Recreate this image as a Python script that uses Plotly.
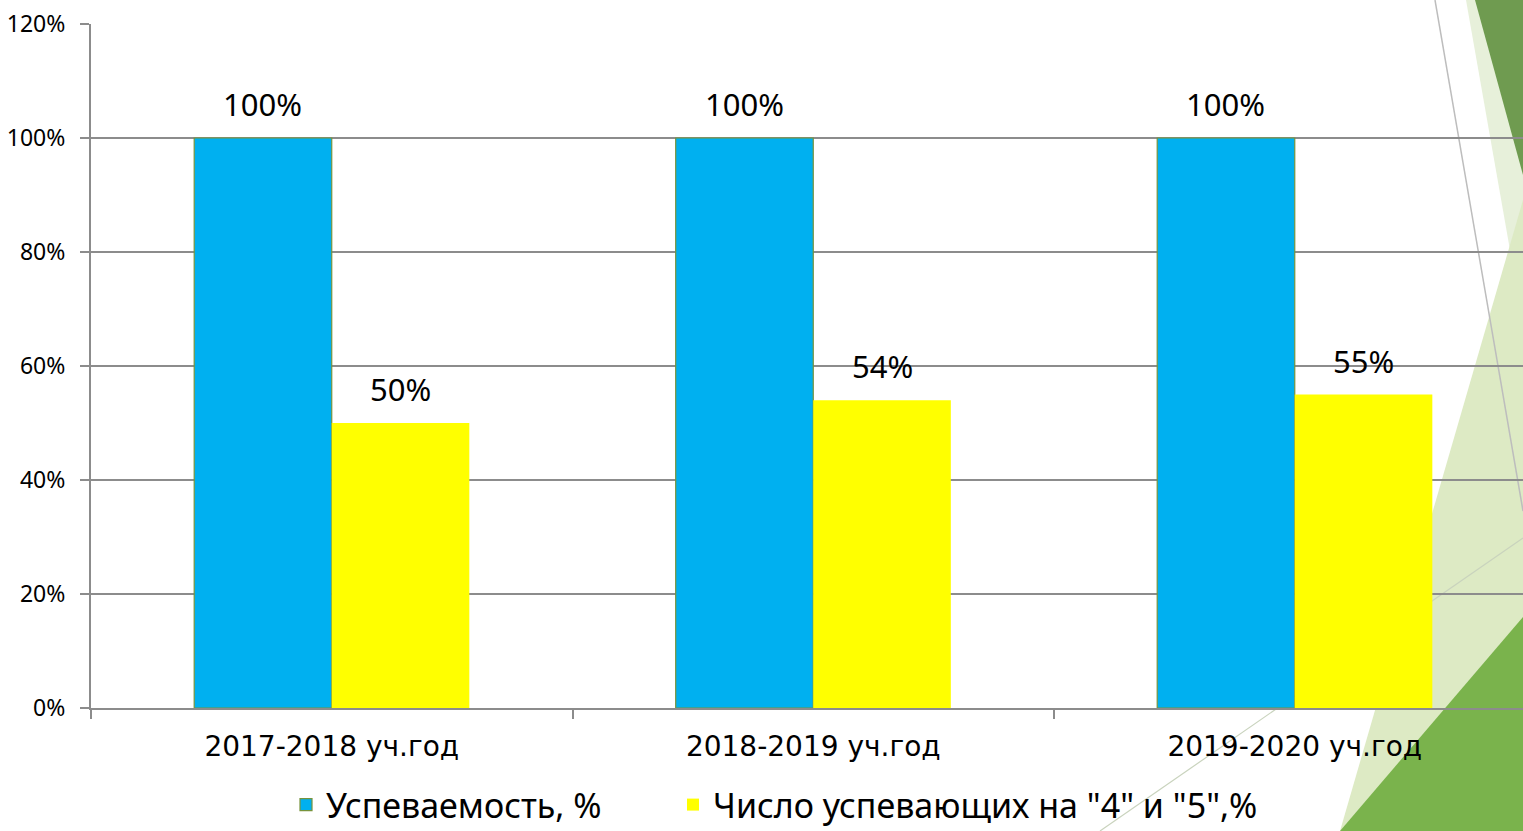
import plotly.graph_objects as go

categories = ["2017-2018 уч.год", "2018-2019 уч.год", "2019-2020 уч.год"]
series_names = ["Успеваемость, %", "Число успевающих на \"4\" и \"5\",%"]
uspevaemost = [1.00, 1.00, 1.00]
chislo_45 = [0.50, 0.54, 0.55]
y_ticks = [0, 0.2, 0.4, 0.6, 0.8, 1.0, 1.2]

W, H = 1523, 831
ML, MR, MT, MB = 91, 0, 24, 123
PW, PH = W - ML - MR, H - MT - MB

def px(x):
    return (x - ML) / PW

def py(y):
    return (H - MB - y) / PH

fig = go.Figure()
fig.add_trace(go.Bar(
    x=categories, y=uspevaemost, name=series_names[0], legend="legend",
    marker=dict(color="#00B0F0", line=dict(color="#77933C", width=1.2)),
))
fig.add_trace(go.Bar(
    x=categories, y=chislo_45, name=series_names[1], legend="legend2",
    marker=dict(color="#FFFF00", line=dict(width=0)),
))

# data labels
annotations = []
for vals, shift in ((uspevaemost, -68.8), (chislo_45, 68.8)):
    for c, v in zip(categories, vals):
        annotations.append(dict(
            x=c, y=v, xref="x", yref="y", text=f"{round(v*100)}%",
            showarrow=False, xshift=shift, yshift=34, yanchor="middle",
            font=dict(family="Noto Sans", size=31, color="#000000"),
        ))

def tri(points, color):
    path = "M " + " L ".join(f"{px(a):.5f},{py(b):.5f}" for a, b in points) + " Z"
    return dict(type="path", xref="paper", yref="paper", path=path,
                fillcolor=color, line=dict(width=0), layer="below")

shapes = [
    tri([(1466, 0), (1523, 0), (1523, 324)], "#E7F0DA"),
    tri([(1475, 0), (1523, 0), (1523, 175)], "#6F9B50"),
    tri([(1340, 831), (1523, 200), (1523, 831)], "#DDEAC4"),
    tri([(1340, 831), (1523, 617), (1523, 831)], "#7AB34C"),
    dict(type="line", xref="paper", yref="paper", x0=px(1435), y0=py(0), x1=px(1523), y1=py(511),
         line=dict(color="#BDBDBD", width=1.5), layer="below"),
    dict(type="line", xref="paper", yref="paper", x0=px(1523), y0=py(538), x1=px(1100), y1=py(831),
         line=dict(color="#C9D3BD", width=1.2), layer="below"),
]

legend_common = dict(orientation="h", xref="container", yref="container",
                     xanchor="left", y=(H - 805) / H, yanchor="middle",
                     font=dict(family="Noto Sans", size=34, color="#000000"),
                     bgcolor="rgba(0,0,0,0)", itemwidth=30)

fig.update_layout(
    width=W, height=H,
    margin=dict(l=ML, r=MR, t=MT, b=MB, pad=0),
    paper_bgcolor="#FFFFFF", plot_bgcolor="rgba(0,0,0,0)",
    barmode="group", bargap=0.4286, bargroupgap=0,
    showlegend=True,
    legend=dict(x=286 / W, **legend_common),
    legend2=dict(x=673 / W, **legend_common),
    annotations=annotations,
    shapes=shapes,
    xaxis=dict(
        type="category", range=[-0.5, 2.474],
        showline=True, linecolor="#8C8C8C", linewidth=2,
        ticks="outside", ticklen=9, tickwidth=2, tickcolor="#8C8C8C",
        tickson="boundaries", showgrid=False,
        tickfont=dict(family="DejaVu Sans", size=28, color="#000000"),
        ticklabelstandoff=12,
    ),
    yaxis=dict(
        range=[0, 1.2], tickvals=y_ticks, tickformat=".0%",
        showline=True, linecolor="#8C8C8C", linewidth=2,
        ticks="outside", ticklen=9, tickwidth=2, tickcolor="#8C8C8C",
        showgrid=True, gridcolor="#8C8C8C", gridwidth=2, zeroline=False,
        tickfont=dict(family="Noto Sans", size=23, color="#000000"),
        ticklabelstandoff=10,
    ),
)

fig.write_html("out.html", config={"displayModeBar": False},
               post_script="document.body.style.margin='0';document.body.style.overflow='hidden';")
